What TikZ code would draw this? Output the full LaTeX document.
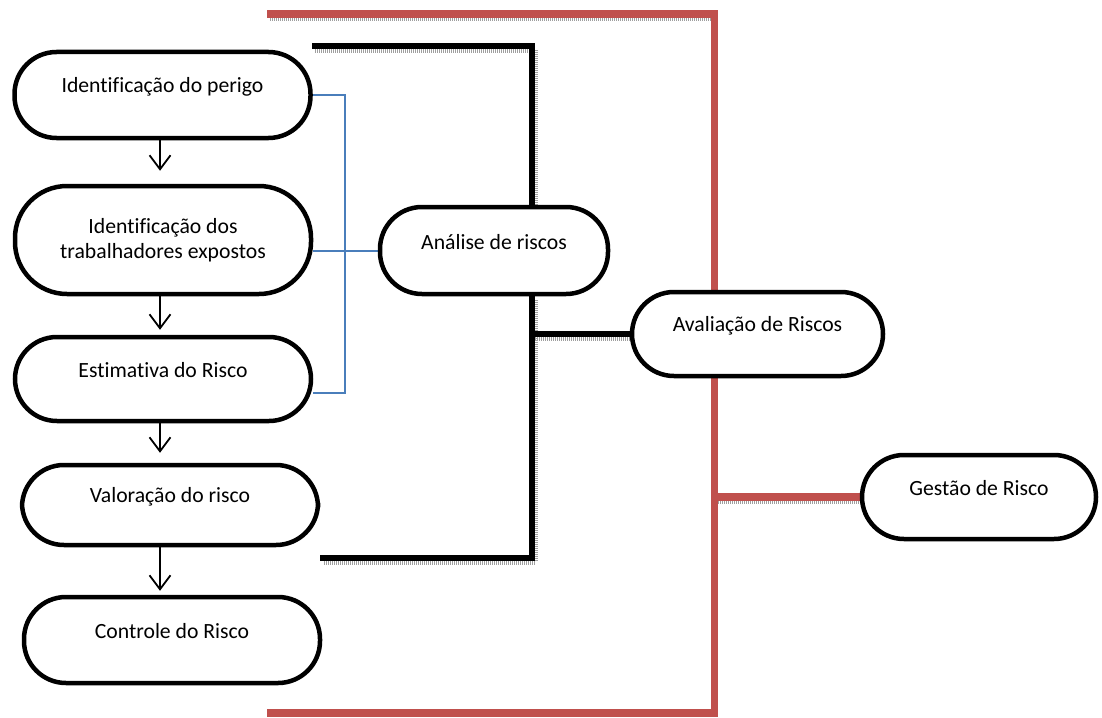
\documentclass[tikz,border=0pt]{standalone}
\usepackage{fontspec}
\setmainfont{Carlito}[Ligatures=NoCommon]
\usetikzlibrary{arrows.meta,backgrounds}

\definecolor{framered}{HTML}{C0504D}
\definecolor{linkblue}{HTML}{4A7EBB}

% single-line captions sit a little above the middle of their box
\newcommand{\liftup}[1]{\raisebox{8.5pt}[\height][\depth]{#1}}

\begin{document}
\begin{tikzpicture}[x=1pt,y=-1pt,
  stage/.style={draw=black, line width=4.5pt, fill=white, rounded corners=42pt,
    inner sep=0pt, align=center, font=\fontsize{21.7}{25.5}\selectfont},
  flowarrow/.style={draw=black, line width=1.8pt,
    -{Straight Barb[length=14pt,width=21pt]}},
  bluelink/.style={draw=linkblue, line width=2pt},
  blackframe/.style={draw=black, line width=5.5pt},
  redframe/.style={draw=framered, line width=7.5pt},
  frameshadow/.style={draw=gray!75, dash pattern=on 1pt off 1pt,
    transform canvas={shift={(3pt,-4pt)}}}
]
\useasboundingbox (0,0) rectangle (1102,717);

% process steps
\node[stage, minimum width=296pt, minimum height=86pt] (n1) at (162.5,95)
  {\liftup{Identificação do perigo}};
\node[stage, minimum width=296pt, minimum height=108pt, rounded corners=52pt] (n2) at (163,240)
  {Identificação dos\\trabalhadores expostos};
\node[stage, minimum width=296pt, minimum height=84pt] (n3) at (163,379)
  {\liftup{Estimativa do Risco}};
\node[stage, minimum width=296pt, minimum height=80pt] (n4) at (170,505)
  {\liftup{Valoração do risco}};
\node[stage, minimum width=296pt, minimum height=86pt] (n5) at (172,640)
  {\liftup{Controle do Risco}};

% grouping stages
\node[stage, minimum width=228pt, minimum height=87pt] (analise) at (494,250.5)
  {\liftup{Análise de riscos}};
\node[stage, minimum width=251pt, minimum height=84pt] (aval) at (757.5,334)
  {\liftup{Avaliação de Riscos}};
\node[stage, minimum width=234pt, minimum height=84pt] (gest) at (979,497)
  {\liftup{Gestão de Risco}};

% flow between the steps
\coordinate (ax) at (160,0);
\draw[flowarrow, shorten >=13pt] (n1.south -| ax) -- (n2.north -| ax);
\draw[flowarrow, shorten >=5pt]  (n2.south -| ax) -- (n3.north -| ax);
\draw[flowarrow, shorten >=10pt] (n3.south -| ax) -- (n4.north -| ax);
\draw[flowarrow, shorten >=4pt]  (n4.south -| ax) -- (n5.north -| ax);

% brackets
\coordinate (bluex) at (345,393);
\coordinate (bx) at (532,0);
\coordinate (btl) at (312,46);
\coordinate (bbl) at (320,558);
\coordinate (rtl) at (267,14);
\coordinate (rtr) at (714.5,14);
\coordinate (rbr) at (714.5,713);
\coordinate (rbl) at (267,713);

\begin{scope}[on background layer]
  % drop shadows of the thick frames
  \draw[frameshadow, line width=6.5pt] (rtl) -- ([xshift=-4pt]rtr);
  \draw[frameshadow, line width=6.5pt] (rbr |- gest.west) -- (gest.west);
  \draw[frameshadow, line width=5.5pt] (btl) -- (btl -| bx) -- (analise.north -| bx);
  \draw[frameshadow, line width=5.5pt] (analise.south -| bx) -- (bbl -| bx) -- (bbl);
  \draw[frameshadow, line width=5.5pt] (aval.west -| bx) -- (aval.west);

  % risk management frame
  \draw[redframe] (rtl) -- (rtr) -- (rbr) -- (rbl);
  \draw[redframe] (rbr |- gest.west) -- (gest.west);

  % risk assessment frame
  \draw[blackframe] (btl) -- (btl -| bx) -- (analise.north -| bx);
  \draw[blackframe] (analise.south -| bx) -- (bbl -| bx) -- (bbl);
  \draw[blackframe] (aval.west -| bx) -- (aval.west);

  % risk analysis bracket
  \draw[bluelink] (n1.east) -| (bluex) -- (bluex -| n3.east);
  \draw[bluelink] (n2.east |- analise.west) -- (analise.west);
\end{scope}
\end{tikzpicture}
\end{document}
